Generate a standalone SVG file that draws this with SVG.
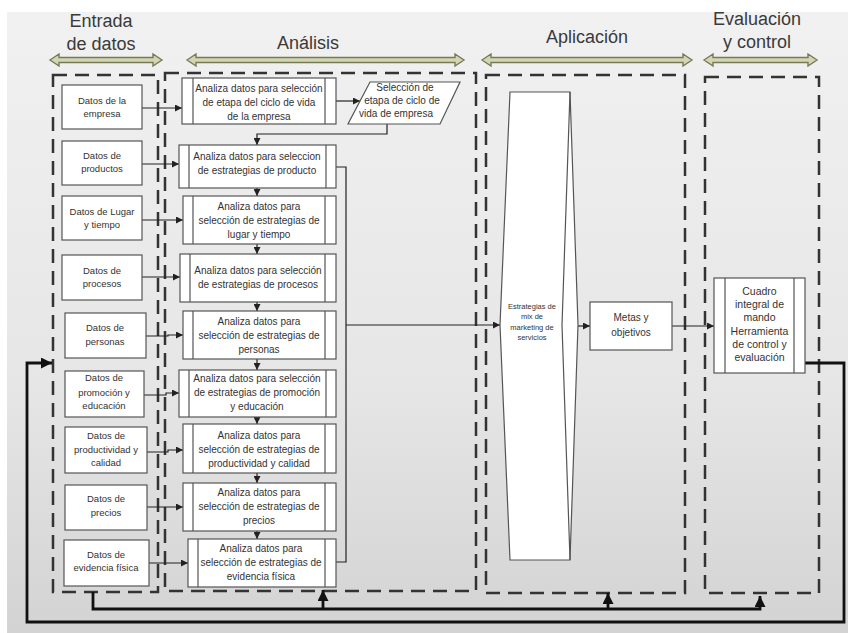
<svg xmlns="http://www.w3.org/2000/svg" width="848" height="633" viewBox="0 0 848 633">
<defs>
<linearGradient id="bg" x1="0" y1="0" x2="0" y2="1">
<stop offset="0" stop-color="#f1f1f1"/>
<stop offset="0.6" stop-color="#e6e6e6"/>
<stop offset="1" stop-color="#d3d3d3"/>
</linearGradient>
<marker id="a" viewBox="0 0 10 10" refX="10" refY="5" markerWidth="7" markerHeight="7" markerUnits="userSpaceOnUse" orient="auto"><path d="M0,0 L10,5 L0,10 z" fill="#222"/></marker>
<marker id="b" viewBox="0 0 10 10" refX="10" refY="5" markerWidth="11" markerHeight="11" markerUnits="userSpaceOnUse" orient="auto"><path d="M0,0 L10,5 L0,10 z" fill="#111"/></marker>
</defs>
<style>
.t{font-family:"Liberation Sans",Arial,sans-serif;fill:#333;text-anchor:middle}
.h{font-size:18px;fill:#3a3a3a}
.d{font-size:9.5px}
.s{font-size:10px}
.e{font-size:7.5px}
.c{font-size:10.5px}
.box{fill:#fff;stroke:#555;stroke-width:1.2}
.in{stroke:#555;stroke-width:1.2;fill:none}
.dash{fill:none;stroke:#333;stroke-width:2.5;stroke-dasharray:14 8}
.hd{fill:#d3d6b4;stroke:#767b55;stroke-width:1.4}
.ln{fill:none;stroke:#222;stroke-width:1.2}
.fb{fill:none;stroke:#111;stroke-width:2.8}
</style>
<rect x="7" y="12" width="841" height="621" fill="url(#bg)"/>

<g id="headers">
<text class="t h" x="101" y="27">Entrada</text>
<text class="t h" x="101" y="50">de datos</text>
<text class="t h" x="308" y="49">Análisis</text>
<text class="t h" x="587" y="43">Aplicación</text>
<text class="t h" x="757" y="25">Evaluación</text>
<text class="t h" x="757" y="48">y control</text>
<path class="hd" d="M50 60 L59 54 L59 57.5 L153 57.5 L153 54 L162 60 L153 66 L153 62.5 L59 62.5 L59 66 Z"/>
<path class="hd" d="M187 60 L196 54 L196 57.5 L455 57.5 L455 54 L464 60 L455 66 L455 62.5 L196 62.5 L196 66 Z"/>
<path class="hd" d="M482 60 L491 54 L491 57.5 L683 57.5 L683 54 L692 60 L683 66 L683 62.5 L491 62.5 L491 66 Z"/>
<path class="hd" d="M704 60 L713 54 L713 57.5 L808 57.5 L808 54 L817 60 L808 66 L808 62.5 L713 62.5 L713 66 Z"/>
</g>

<g id="containers">
<rect class="dash" x="53" y="75" width="105" height="517"/>
<rect class="dash" x="165" y="73" width="311" height="518"/>
<rect class="dash" x="486" y="75" width="199" height="518"/>
<rect class="dash" x="705" y="77" width="114" height="516"/>
</g>

<g id="connectors">
<path class="ln" d="M142 108 H182" marker-end="url(#a)"/>
<path class="ln" d="M142 164 H179" marker-end="url(#a)"/>
<path class="ln" d="M142 220 H183" marker-end="url(#a)"/>
<path class="ln" d="M142 277 H180" marker-end="url(#a)"/>
<path class="ln" d="M146 336 H168 V335 H183" marker-end="url(#a)"/>
<path class="ln" d="M144 395 H166 V393 H179" marker-end="url(#a)"/>
<path class="ln" d="M147 452 H168 V450 H183" marker-end="url(#a)"/>
<path class="ln" d="M147 507 H183" marker-end="url(#a)"/>
<path class="ln" d="M149 563 H188" marker-end="url(#a)"/>
<path class="ln" d="M336 101 H360" marker-end="url(#a)"/>
<path class="ln" d="M387 124 V134 H257 V145" marker-end="url(#a)"/>
<path class="ln" d="M257 188 V196" marker-end="url(#a)"/>
<path class="ln" d="M257 244 V254" marker-end="url(#a)"/>
<path class="ln" d="M257 302 V311" marker-end="url(#a)"/>
<path class="ln" d="M257 359 V370" marker-end="url(#a)"/>
<path class="ln" d="M257 417 V424" marker-end="url(#a)"/>
<path class="ln" d="M257 473 V483" marker-end="url(#a)"/>
<path class="ln" d="M257 531 V539" marker-end="url(#a)"/>
<path class="ln" d="M336 167 H346 V562 H336"/>
<path class="ln" d="M346 325 H500" marker-end="url(#a)"/>
<path class="ln" d="M578 326 H590" marker-end="url(#a)"/>
<path class="ln" d="M672 326 H714" marker-end="url(#a)"/>
<path class="fb" d="M805 363 H844 V622 H27 V363 H52" marker-end="url(#b)"/>
<path class="fb" d="M93 592 V609 H760 V596" marker-end="url(#b)"/>
<path class="fb" d="M323 609 V590" marker-end="url(#b)"/>
<path class="fb" d="M608 609 V593" marker-end="url(#b)"/>
</g>

<g id="datos-empresa"><rect class="box" x="62" y="85" width="80" height="44"/><text class="t d" x="102" y="104">Datos de la</text><text class="t d" x="102" y="117">empresa</text></g>
<g id="datos-productos"><rect class="box" x="62" y="141" width="80" height="44"/><text class="t d" x="102" y="159">Datos de</text><text class="t d" x="102" y="172">productos</text></g>
<g id="datos-lugar"><rect class="box" x="62" y="196" width="80" height="44"/><text class="t d" x="102" y="215">Datos de Lugar</text><text class="t d" x="102" y="228">y tiempo</text></g>
<g id="datos-procesos"><rect class="box" x="62" y="255" width="80" height="45"/><text class="t d" x="102" y="274">Datos de</text><text class="t d" x="102" y="287">procesos</text></g>
<g id="datos-personas"><rect class="box" x="65" y="313" width="81" height="45"/><text class="t d" x="105" y="331">Datos de</text><text class="t d" x="105" y="345">personas</text></g>
<g id="datos-promocion"><rect class="box" x="65" y="371" width="79" height="46"/><text class="t d" x="104" y="381">Datos de</text><text class="t d" x="104" y="396">promoción y</text><text class="t d" x="104" y="409">educación</text></g>
<g id="datos-productividad"><rect class="box" x="65" y="427" width="82" height="46"/><text class="t d" x="106" y="439">Datos de</text><text class="t d" x="106" y="453">productividad y</text><text class="t d" x="106" y="466">calidad</text></g>
<g id="datos-precios"><rect class="box" x="65" y="485" width="82" height="45"/><text class="t d" x="106" y="502">Datos de</text><text class="t d" x="106" y="516">precios</text></g>
<g id="datos-evidencia"><rect class="box" x="64" y="540" width="85" height="46"/><text class="t d" x="106" y="558">Datos de</text><text class="t d" x="106" y="571">evidencia física</text></g>

<g id="analiza-ciclo"><rect class="box" x="182" y="78" width="154" height="46"/><path class="in" d="M193 78 V124 M325 78 V124"/><text class="t s" x="259" y="92">Analiza datos para selección</text><text class="t s" x="259" y="106">de etapa del ciclo de vida</text><text class="t s" x="259" y="120">de la empresa</text></g>
<g id="seleccion-etapa"><polygon class="box" points="370,82 460,82 440,124 348,124"/><text class="t s" x="405" y="91">Selección de</text><text class="t s" x="402" y="104">etapa de ciclo de</text><text class="t s" x="396" y="117">vida de empresa</text></g>
<g id="analiza-producto"><rect class="box" x="179" y="145" width="157" height="43"/><path class="in" d="M189 145 V188 M326 145 V188"/><text class="t s" x="257" y="160">Analiza datos para seleccion</text><text class="t s" x="257" y="174">de estrategias de producto</text></g>
<g id="analiza-lugar"><rect class="box" x="183" y="196" width="153" height="48"/><path class="in" d="M193 196 V244 M325 196 V244"/><text class="t s" x="259" y="210">Analiza datos para</text><text class="t s" x="259" y="224">selección de estrategias de</text><text class="t s" x="259" y="238">lugar y tiempo</text></g>
<g id="analiza-procesos"><rect class="box" x="180" y="254" width="156" height="48"/><path class="in" d="M190 254 V302 M325 254 V302"/><text class="t s" x="258" y="274">Analiza datos para selección</text><text class="t s" x="258" y="288">de estrategias de procesos</text></g>
<g id="analiza-personas"><rect class="box" x="183" y="311" width="153" height="48"/><path class="in" d="M193 311 V359 M325 311 V359"/><text class="t s" x="259" y="325">Analiza datos para</text><text class="t s" x="259" y="339">selección de estrategias de</text><text class="t s" x="259" y="353">personas</text></g>
<g id="analiza-promocion"><rect class="box" x="179" y="370" width="157" height="47"/><path class="in" d="M189 370 V417 M326 370 V417"/><text class="t s" x="257" y="382">Analiza datos para selección</text><text class="t s" x="257" y="396">de estrategias de promoción</text><text class="t s" x="257" y="410">y educación</text></g>
<g id="analiza-productividad"><rect class="box" x="183" y="424" width="153" height="49"/><path class="in" d="M193 424 V473 M325 424 V473"/><text class="t s" x="259" y="439">Analiza datos para</text><text class="t s" x="259" y="453">selección de estrategias de</text><text class="t s" x="259" y="467">productividad y calidad</text></g>
<g id="analiza-precios"><rect class="box" x="183" y="483" width="153" height="48"/><path class="in" d="M193 483 V531 M325 483 V531"/><text class="t s" x="259" y="496">Analiza datos para</text><text class="t s" x="259" y="510">selección de estrategias de</text><text class="t s" x="259" y="524">precios</text></g>
<g id="analiza-evidencia"><rect class="box" x="188" y="539" width="148" height="48"/><path class="in" d="M198 539 V587 M325 539 V587"/><text class="t s" x="261" y="552">Analiza datos para</text><text class="t s" x="261" y="566">selección de estrategias de</text><text class="t s" x="261" y="580">evidencia física</text></g>

<g id="estrategias"><polygon class="box" points="510,92 570,92 578,325 570,560 510,560 500,325"/><path class="in" d="M570 92 L562 325 L570 560"/><text class="t e" x="532" y="309">Estrategias de</text><text class="t e" x="532" y="319">mix de</text><text class="t e" x="532" y="330">marketing de</text><text class="t e" x="532" y="340">servicios</text></g>
<g id="metas"><rect class="box" x="590" y="302" width="82" height="48"/><text class="t s" x="631" y="321">Metas y</text><text class="t s" x="631" y="336">objetivos</text></g>
<g id="cuadro"><rect class="box" x="714" y="278" width="91" height="95"/><path class="in" d="M725 278 V373 M794 278 V373"/><text class="t c" x="759.5" y="295">Cuadro</text><text class="t c" x="759.5" y="308">integral de</text><text class="t c" x="759.5" y="321">mando</text><text class="t c" x="759.5" y="335">Herramienta</text><text class="t c" x="759.5" y="348">de control y</text><text class="t c" x="759.5" y="361">evaluación</text></g>
</svg>
